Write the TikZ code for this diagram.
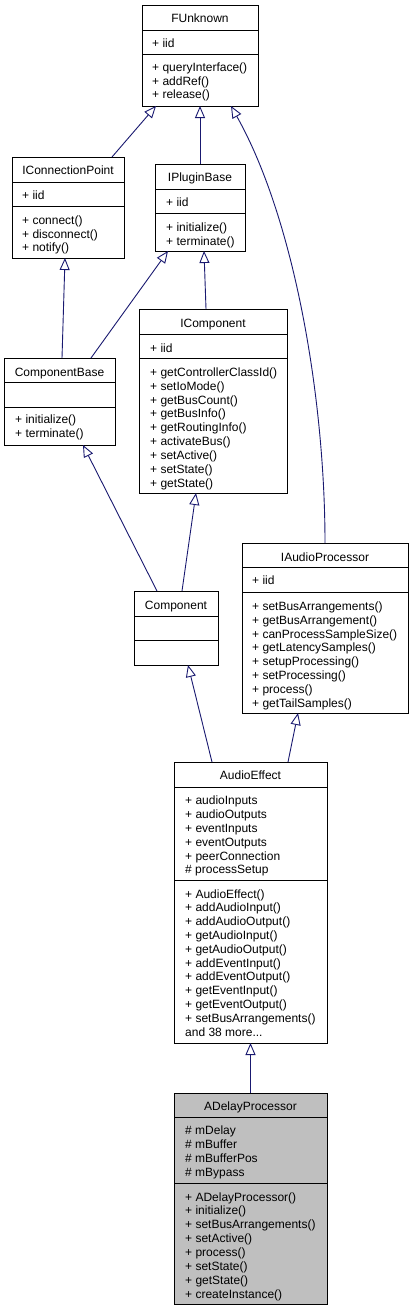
\documentclass[tikz,border=0pt]{standalone}
\usepackage{fontspec}
\setmainfont{Liberation Sans}
\usetikzlibrary{arrows.meta}
\definecolor{edgeblue}{HTML}{191970}
\definecolor{hilite}{HTML}{BFBFBF}
\begin{document}
\begin{tikzpicture}[x=1pt,y=-1pt,
  cbox/.style={draw=black,line width=1pt,rectangle,inner sep=0pt,outer sep=0pt,anchor=north west},
  sep/.style={draw=black,line width=1pt},
  mem/.style={anchor=base west,inner sep=0pt,font=\fontsize{12}{14}\selectfont},
  ttl/.style={anchor=base,inner sep=0pt,font=\fontsize{12}{14}\selectfont},
  inh/.style={draw=edgeblue,line width=0.9pt,-{Triangle[open,length=12pt,width=10pt,line width=0.9pt]}}
]
\fill[white] (0,0) rectangle (415,1312);
\useasboundingbox (0,0) rectangle (415,1312);

% ---------- FUnknown ----------
\node[cbox,minimum width=116pt,minimum height=101pt] (FU) at (142,5) {};
\draw[sep] (FU.west |- 0,30) -- (FU.east |- 0,30);
\draw[sep] (FU.west |- 0,54) -- (FU.east |- 0,54);
\node[ttl] (FUt) at (200,22.3) {FUnknown};
\node[mem] (FUa) at (152,47.3) {+ iid};
\foreach \t [count=\i from 0] in {+ queryInterface(),+ addRef(),+ release()}
  \node[mem] (FUm\i) at (152,71.3+13.8*\i) {\t};

% ---------- IConnectionPoint ----------
\node[cbox,minimum width=112pt,minimum height=101pt] (ICP) at (12,157) {};
\draw[sep] (ICP.west |- 0,182) -- (ICP.east |- 0,182);
\draw[sep] (ICP.west |- 0,206) -- (ICP.east |- 0,206);
\node[ttl] (ICPt) at (68,174.3) {IConnectionPoint};
\node[mem] (ICPa) at (22,199.3) {+ iid};
\foreach \t [count=\i from 0] in {+ connect(),+ disconnect(),+ notify()}
  \node[mem] (ICPm\i) at (22,224.3+13.8*\i) {\t};

% ---------- IPluginBase ----------
\node[cbox,minimum width=90pt,minimum height=87pt] (IPB) at (155,164) {};
\draw[sep] (IPB.west |- 0,189) -- (IPB.east |- 0,189);
\draw[sep] (IPB.west |- 0,213) -- (IPB.east |- 0,213);
\node[ttl] (IPBt) at (200,181.3) {IPluginBase};
\node[mem] (IPBa) at (166,206.3) {+ iid};
\foreach \t [count=\i from 0] in {+ initialize(),+ terminate()}
  \node[mem] (IPBm\i) at (166,231.3+13.8*\i) {\t};

% ---------- IComponent ----------
\node[cbox,minimum width=148pt,minimum height=184pt] (IC) at (139,309) {};
\draw[sep] (IC.west |- 0,334) -- (IC.east |- 0,334);
\draw[sep] (IC.west |- 0,358) -- (IC.east |- 0,358);
\node[ttl] (ICt) at (213,327.3) {IComponent};
\node[mem] (ICa) at (150,352.3) {+ iid};
\foreach \t [count=\i from 0] in {+ getControllerClassId(),+ setIoMode(),+ getBusCount(),+ getBusInfo(),+ getRoutingInfo(),+ activateBus(),+ setActive(),+ setState(),+ getState()}
  \node[mem] (ICm\i) at (150,376.3+13.85*\i) {\t};

% ---------- ComponentBase ----------
\node[cbox,minimum width=111pt,minimum height=87pt] (CB) at (4,358) {};
\draw[sep] (CB.west |- 0,382) -- (CB.east |- 0,382);
\draw[sep] (CB.west |- 0,407) -- (CB.east |- 0,407);
\node[ttl] (CBt) at (59.5,376.3) {ComponentBase};
\foreach \t [count=\i from 0] in {+ initialize(),+ terminate()}
  \node[mem] (CBm\i) at (15,423.3+13.8*\i) {\t};

% ---------- IAudioProcessor ----------
\node[cbox,minimum width=166pt,minimum height=170pt] (IAP) at (242,543) {};
\draw[sep] (IAP.west |- 0,567) -- (IAP.east |- 0,567);
\draw[sep] (IAP.west |- 0,592) -- (IAP.east |- 0,592);
\node[ttl] (IAPt) at (325,561.3) {IAudioProcessor};
\node[mem] (IAPa) at (252,584.3) {+ iid};
\foreach \t [count=\i from 0] in {+ setBusArrangements(),+ getBusArrangement(),+ canProcessSampleSize(),+ getLatencySamples(),+ setupProcessing(),+ setProcessing(),+ process(),+ getTailSamples()}
  \node[mem] (IAPm\i) at (252,610.3+13.85*\i) {\t};

% ---------- Component ----------
\node[cbox,minimum width=84pt,minimum height=74pt] (CO) at (134,591) {};
\draw[sep] (CO.west |- 0,616) -- (CO.east |- 0,616);
\draw[sep] (CO.west |- 0,640) -- (CO.east |- 0,640);
\node[ttl] (COt) at (176,609.3) {Component};

% ---------- AudioEffect ----------
\node[cbox,minimum width=153pt,minimum height=281pt] (AE) at (174,762) {};
\draw[sep] (AE.west |- 0,787) -- (AE.east |- 0,787);
\draw[sep] (AE.west |- 0,880) -- (AE.east |- 0,880);
\node[ttl] (AEt) at (250.5,779.3) {AudioEffect};
\foreach \t [count=\i from 0] in {+ audioInputs,+ audioOutputs,+ eventInputs,+ eventOutputs,+ peerConnection,\# processSetup}
  \node[mem] (AEa\i) at (185,804.8+13.8*\i) {\t};
\foreach \t [count=\i from 0] in {+ AudioEffect(),+ addAudioInput(),+ addAudioOutput(),+ getAudioInput(),+ getAudioOutput(),+ addEventInput(),+ addEventOutput(),+ getEventInput(),+ getEventOutput(),+ setBusArrangements()}
  \node[mem] (AEm\i) at (185,898.1+13.8*\i) {\t};
\node[mem] (AEmore) at (185,898.1+13.8*10) {and 38 more{.}{.}{.}};

% ---------- ADelayProcessor ----------
\node[cbox,fill=hilite,minimum width=153pt,minimum height=211pt] (ADP) at (174,1093) {};
\draw[sep] (ADP.west |- 0,1117) -- (ADP.east |- 0,1117);
\draw[sep] (ADP.west |- 0,1183.5) -- (ADP.east |- 0,1183.5);
\node[ttl] (ADPt) at (250.5,1110.6) {ADelayProcessor};
\foreach \t [count=\i from 0] in {\# mDelay,\# mBuffer,\# mBufferPos,\# mBypass}
  \node[mem] (ADPa\i) at (185,1134.3+14.2*\i) {\t};
\foreach \t [count=\i from 0] in {+ ADelayProcessor(),+ initialize(),+ setBusArrangements(),+ setActive(),+ process(),+ setState(),+ getState(),+ createInstance()}
  \node[mem] (ADPm\i) at (185,1201+13.86*\i) {\t};

% ---------- inheritance edges ----------
\draw[inh] (112,0 |- ICP.north) -- (156,0 |- FU.south);
\draw[inh] (200,0 |- IPB.north) -- (200,0 |- FU.south);
\draw[inh] (325,0 |- IAP.north) .. controls (325,400) and (295,220) .. (231,0 |- FU.south);
\draw[inh] (62,0 |- CB.north) -- (65,0 |- ICP.south);
\draw[inh] (91,0 |- CB.north) -- (168,0 |- IPB.south);
\draw[inh] (206,0 |- IC.north) -- (204,0 |- IPB.south);
\draw[inh] (157,0 |- CO.north) -- (83,0 |- CB.south);
\draw[inh] (182,0 |- CO.north) -- (196,0 |- IC.south);
\draw[inh] (212,0 |- AE.north) -- (188,0 |- CO.south);
\draw[inh] (288,0 |- AE.north) -- (298,0 |- IAP.south);
\draw[inh] (250.5,0 |- ADP.north) -- (250.5,0 |- AE.south);
\end{tikzpicture}
\end{document}
